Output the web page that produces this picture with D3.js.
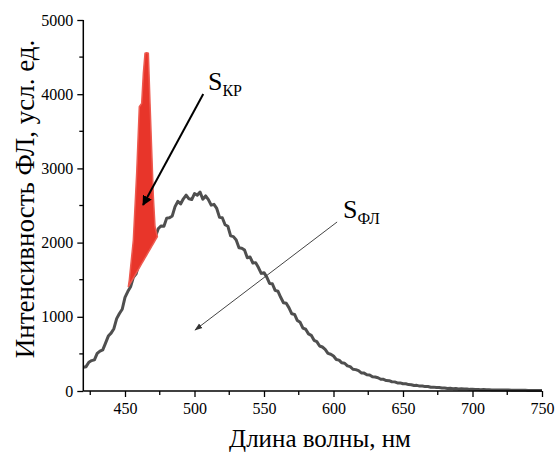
<!DOCTYPE html>
<html><head><meta charset="utf-8">
<script src="https://cdn.jsdelivr.net/npm/d3@7"></script>
<style>
html,body{margin:0;padding:0;background:#fff;}
svg{display:block;}
svg text{font-family:"Liberation Serif","Times New Roman",serif !important;}
</style></head>
<body>
<svg id="chart" width="557" height="455"></svg>
<script>
// ---------- data ----------
const wlStart = 420, wlStep = 2;   // wavelength grid of the fluorescence spectrum, nm
const flIntensity = [
 320,328,388,410,420,507,538,555,645,740,
 780,840,975,1045,1102,1262,1340,1405,1532,1580,
 1720,1815,1850,1890,2015,2060,2085,2190,2225,2220,
 2330,2335,2360,2485,2555,2520,2590,2640,2590,2580,
 2660,2640,2680,2585,2630,2580,2505,2515,2460,2340,
 2335,2240,2220,2090,2080,2035,1930,1925,1900,1795,
 1805,1725,1730,1663,1585,1595,1535,1450,1445,1357,
 1345,1263,1190,1182,1120,1040,1032,950,925,847,
 832,770,750,683,665,606,593,562,508,496,
 472,425,416,380,374,338,328,293,288,274,
 244,241,218,216,192,188,178,158,157,141,
 139,125,123,109,109,97,97,86,85,75,
 76,66,68,59,60,51,52,46,46,40,
 41,35,37,32,33,28,29,26,26,22,
 23,21,20,18,19,17,16,15,15,13,
 14,13,12,12,11,11,10,10,9,9,
 8,8,7,7,6,6
];
// Raman band (S_KP) upper contour: wavelength, intensity
const ramanWl  = [452.4, 453.1, 456.0, 458.4, 460.3, 462.0, 463.2, 464.4, 465.6, 466.8, 468.0, 469.2, 470.4, 471.6, 473.3];
const ramanInt = [1406,  1496,  2035,  2934,  3831,  3877,  4281,  4551,  4560,  4551,  3877,  3248,  2619,  2214,  2080];

const xTicks = [450, 500, 550, 600, 650, 700, 750];
const yTicks = [0, 1000, 2000, 3000, 4000, 5000];
const xLabel = "Длина волны, нм";
const yLabel = "Интенсивность ФЛ, усл. ед.";

// annotations (data units): [from wl, from int, to wl, to int]
const arrowKR = [506.3, 4003, 463.0, 2507];
const labelKR = [509.7, 4057];
const arrowFL = [602.6, 2278, 500.4, 822];
const labelFL = [606.9, 2332];

// ---------- layout ----------
const svg = d3.select("#chart");
const x = d3.scaleLinear().domain([420, 750]).range([83.3, 542]);
const y = d3.scaleLinear().domain([0, 5000]).range([391, 20]);

const defs = svg.append("defs");
defs.append("marker").attr("id","ahK").attr("viewBox","0 0 10 10").attr("refX",9).attr("refY",5)
  .attr("markerWidth",5).attr("markerHeight",5).attr("markerUnits","strokeWidth").attr("orient","auto")
  .append("path").attr("d","M0,0L10,5L0,10z").attr("fill","#000");
defs.append("marker").attr("id","ahF").attr("viewBox","0 0 10 10").attr("refX",9).attr("refY",5)
  .attr("markerWidth",8).attr("markerHeight",8).attr("markerUnits","strokeWidth").attr("orient","auto")
  .append("path").attr("d","M0,1.5L10,5L0,8.5z").attr("fill","#333");

// fluorescence line
const flData = flIntensity.map((v,i)=>({wl: wlStart + i*wlStep, v}));
svg.append("path").datum(flData)
  .attr("fill","none").attr("stroke","#4f4f4f").attr("stroke-width",3).attr("stroke-linejoin","round")
  .attr("d", d3.line().x(d=>x(d.wl)).y(d=>y(d.v)));

// Raman area above linear baseline
const n = ramanWl.length;
const b0 = ramanInt[0], b1 = ramanInt[n-1], w0 = ramanWl[0], w1 = ramanWl[n-1];
const baseAt = w => b0 + (w - w0) * (b1 - b0) / (w1 - w0);
const rData = ramanWl.map((w,i)=>({w, top: ramanInt[i], base: baseAt(w)}));
svg.append("path").datum(rData)
  .attr("fill","#e8352a").attr("stroke","#ee5a50").attr("stroke-width",1.5).attr("stroke-linejoin","round")
  .attr("d", d3.area().x(d=>x(d.w)).y0(d=>y(d.base)).y1(d=>y(d.top)));

// axes
const xAxis = svg.append("g").attr("transform",`translate(0,${y(0)})`)
  .call(d3.axisBottom(x).tickValues(xTicks).tickSize(6).tickPadding(6).tickFormat(d3.format("d")));
const yAxis = svg.append("g").attr("transform",`translate(${x(420)},0)`)
  .call(d3.axisLeft(y).tickValues(yTicks).tickSize(6).tickPadding(4).tickFormat(d3.format("d")));
const xMinor = d3.range(425, 750, 50);
xAxis.selectAll(".minor").data(xMinor).enter().append("line").attr("class","minor")
  .attr("x1",d=>x(d)).attr("x2",d=>x(d)).attr("y1",0).attr("y2",4).attr("stroke","#000").attr("stroke-width",1.3);
const yMinor = d3.range(500, 5000, 1000);
yAxis.selectAll(".minor").data(yMinor).enter().append("line").attr("class","minor")
  .attr("y1",d=>y(d)).attr("y2",d=>y(d)).attr("x1",0).attr("x2",-4).attr("stroke","#000").attr("stroke-width",1.3);
[xAxis,yAxis].forEach(a=>{
  a.attr("font-family",null).attr("font-size",null);
  a.select(".domain").attr("stroke","#000").attr("stroke-width",1.5).attr("fill","none");
  a.selectAll(".tick line").attr("stroke","#000").attr("stroke-width",1.3);
  a.selectAll(".tick text").style("font-size","16px").attr("fill","#000");
});
xAxis.select(".domain").attr("d",`M${x(420)},0H${x(750)}`);
yAxis.select(".domain").attr("d",`M0,${y(0)}V${y(5000)}`);

// axis titles
svg.append("text").attr("x",320).attr("y",447).attr("text-anchor","middle")
  .style("font-size","25px").attr("fill","#000").text(xLabel);
svg.append("text").attr("transform",`translate(34,199) rotate(-90)`).attr("text-anchor","middle")
  .style("font-size","27px").attr("fill","#000").text(yLabel);

// annotations
svg.append("line").attr("x1",x(arrowKR[0])).attr("y1",y(arrowKR[1])).attr("x2",x(arrowKR[2])).attr("y2",y(arrowKR[3]))
  .attr("stroke","#000").attr("stroke-width",2).attr("marker-end","url(#ahK)");
svg.append("line").attr("x1",x(arrowFL[0])).attr("y1",y(arrowFL[1])).attr("x2",x(arrowFL[2])).attr("y2",y(arrowFL[3]))
  .attr("stroke","#444").attr("stroke-width",1).attr("marker-end","url(#ahF)");
const tK = svg.append("text").attr("x",x(labelKR[0])).attr("y",y(labelKR[1])).style("font-size","26px").attr("fill","#000");
tK.append("tspan").text("S");
tK.append("tspan").style("font-size","16px").attr("dy",6).text("КР");
const tF = svg.append("text").attr("x",x(labelFL[0])).attr("y",y(labelFL[1])).style("font-size","26px").attr("fill","#000");
tF.append("tspan").text("S");
tF.append("tspan").style("font-size","16px").attr("dy",6).text("ФЛ");
</script>
</body></html>
